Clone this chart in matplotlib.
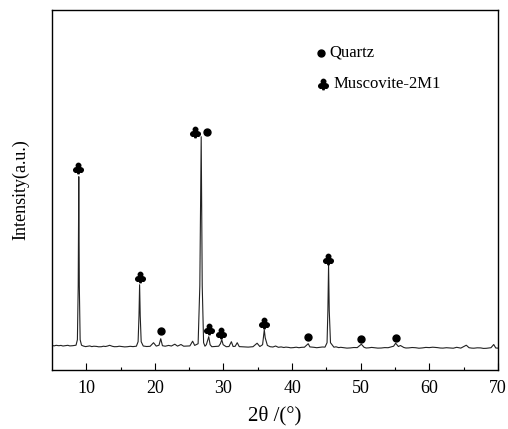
import matplotlib.pyplot as plt

plt.rcParams['font.family'] = ['Liberation Serif', 'DejaVu Serif']
plt.rcParams['mathtext.fontset'] = 'dejavusans'

# XRD trace (2theta in degrees, intensity in a.u.)
two_theta = [5.0, 5.3, 5.6, 6.0, 6.3, 6.6, 7.0, 7.3, 7.6, 8.0, 8.5, 8.7, 8.82, 8.9, 8.98, 9.1, 9.3,
             9.6, 9.9, 10.2, 10.5, 10.8, 11.1, 11.5, 11.8, 12.2, 12.5, 12.8, 13.1, 13.4, 13.8,
             14.1, 14.5, 14.8, 15.2, 15.6, 16.0, 16.4, 16.8,
             17.3, 17.55, 17.68, 17.77, 17.86, 18.0, 18.3, 18.8, 19.3, 19.8, 20.2,
             20.6, 20.85, 21.1, 21.5, 22.0, 22.4, 22.9, 23.3, 23.8, 24.2, 24.7, 25.1,
             25.5, 25.8, 26.3, 26.55, 26.75, 26.9, 27.1, 27.3, 27.5, 27.85, 28.05,
             28.3, 28.7, 29.3, 29.55, 29.75, 29.95, 30.4, 30.8, 31.15, 31.4, 31.7,
             32.0, 32.3, 33.0, 33.6, 34.3, 34.9, 35.3, 35.7, 35.85, 35.95, 36.08,
             36.4, 36.8, 37.2, 37.6, 38.0, 38.4, 38.8, 39.1, 39.5, 39.8, 40.2, 40.6,
             41.0, 41.4, 41.8, 42.35, 42.6,
             43.2, 43.6, 44.0, 44.4, 44.8, 45.1, 45.22, 45.32, 45.42, 45.6, 46.1, 46.4,
             46.8, 47.1, 47.5, 48.0, 48.5, 49.0, 49.5, 50.1, 50.5, 50.8, 51.2, 51.6,
             52.0, 52.5, 53.0, 53.5, 54.0, 54.8, 55.1, 55.5, 55.8,
             56.3, 56.6, 57.0, 57.5, 58.0, 58.5, 59.0, 59.5, 60.0, 60.5, 61.2, 61.6,
             62.0, 62.5, 63.0, 63.5, 64.0, 64.6, 65.4,
             65.8, 66.2, 66.5, 67.0, 67.5, 67.9, 68.3, 68.7, 69.0, 69.4, 69.7, 70.0]
intensity = [0.3, -0.2, 0.4, 0.0, 0.3, -0.3, 0.1, 0.4, -0.2, 0.0, 0.5, 6, 60, 169, 60, 6, 0.5,
             -0.4, -0.9, -0.6, -0.2, -0.9, -0.5, -0.7, -1.1, -1.0, -0.5, -0.8, -0.3, 0.4, -0.6,
             -1.0, -0.9, -0.5, -0.8, -1.2, -1.0, -0.6, -0.9,
             -0.5, 4, 30, 61, 30, 4, -0.3, -0.8, -0.6, 3, -0.4,
             0.5, 7, 0.0, -0.5, 0.3, -0.3, 1.5, -0.4, 1.2, -0.5, -0.3, -0.2,
             4.5, 0.3, 2, 60, 209, 60, 3, -0.5, 1, 9, 1,
             -1, -0.8, -0.5, 2, 6, 1, -1, -0.8, 4, -0.8, -0.6,
             3, -0.9, -1.2, -1.4, -1.0, 2.5, -0.8, 1, 10, 16, 8,
             0.3, -1, -1.3, -0.3, -1.6, -1.2, -1.8, -1.4, -1.7, -2.1, -1.9, -1.5,
             -2.0, -1.6, -1.5, 2, -1.2,
             -1.6, -2.0, -1.7, -1.3, -1.4, 3, 35, 81, 35, 3, -1.5, -1.1,
             -1.9, -1.6, -2.0, -2.4, -2.2, -1.8, -1.9, 1.5, -1.6, -2.3, -2.1, -1.7,
             -2.0, -2.4, -2.3, -1.9, -2.0, -0.5, 2.5, -0.8, 0.2,
             -1.8, -2.3, -2.2, -1.8, -2.0, -2.5, -2.2, -1.7, -1.9, -1.5, -1.9, -2.3,
             -2.4, -2.0, -2.2, -2.5, -1.6, -2.4, 0.5,
             -2.0, -2.4, -2.5, -2.1, -2.2, -2.7, -2.6, -2.2, -2.0, 1.2, -2.3, -2.4]

# phase markers above the peaks
quartz_x = [20.87, 27.62, 42.33, 50.04, 55.1]
quartz_y = [14.7, 213.7, 8.7, 6.7, 7.7]
musc_x = [8.83, 17.86, 25.87, 27.86, 29.65, 35.92, 45.24]
musc_y = [177.7, 68.7, 213.7, 16.7, 12.7, 22.7, 86.7]

fig = plt.figure(figsize=(5.08, 4.29), dpi=100)
ax = fig.add_axes([0.1024, 0.1375, 0.8776, 0.8392])

ax.plot(two_theta, intensity, color='#222222', linewidth=0.8)
ax.plot(quartz_x, quartz_y, 'o', color='black', markersize=5, linestyle='none')
ax.plot(musc_x, musc_y, marker=r'$\clubsuit$', color='black', markersize=7.5,
        linestyle='none')

# legend drawn by hand
ax.plot([44.2], [292.7], 'o', color='black', markersize=5)
ax.plot([44.5], [261.7], marker=r'$\clubsuit$', color='black', markersize=7.5)
ax.text(45.5, 292.7, 'Quartz', fontsize=12, va='center', ha='left')
ax.text(46.1, 261.7, 'Muscovite-2M1', fontsize=12, va='center', ha='left')

ax.set_xlim(5, 70)
ax.set_ylim(-24.3, 335.7)
ax.set_xticks(range(10, 71, 10))
ax.set_xticks(range(15, 70, 10), minor=True)
ax.set_yticks([])
ax.tick_params(axis='x', which='major', direction='in', length=5, width=0.8,
               labelsize=13, pad=7, top=False)
ax.tick_params(axis='x', which='minor', direction='in', length=2.5, width=0.8,
               top=False)
for s in ax.spines.values():
    s.set_linewidth(1.0)

ax.set_xlabel('2θ /(°)', fontsize=15, labelpad=7)
ax.set_ylabel('Intensity(a.u.)', fontsize=13, labelpad=16)

fig.savefig('out.png', dpi=100)
